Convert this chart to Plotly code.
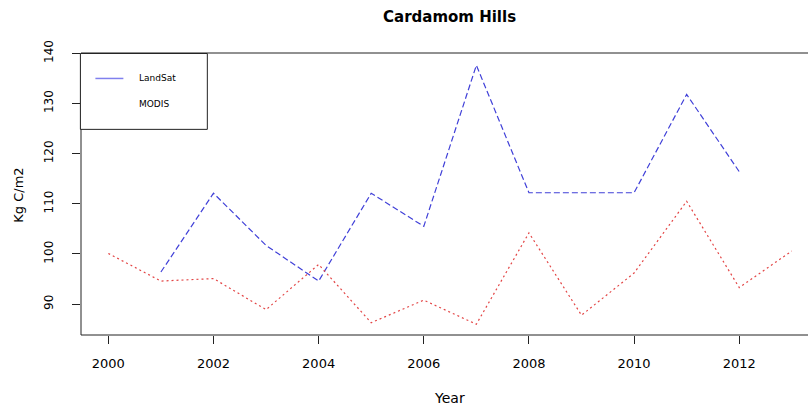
import plotly.graph_objects as go

# Carbon stock estimates, Cardamom Hills
years_landsat = [2001, 2002, 2003, 2004, 2005, 2006, 2007, 2008, 2009, 2010, 2011, 2012]
landsat = [96.4, 112.1, 101.7, 94.6, 112.1, 105.5, 137.6, 112.2, 112.2, 112.2, 131.8, 116.4]

years_modis = [2000, 2001, 2002, 2003, 2004, 2005, 2006, 2007, 2008, 2009, 2010, 2011, 2012, 2013]
modis = [100.1, 94.6, 95.1, 88.9, 97.9, 86.3, 90.8, 86.0, 104.2, 87.8, 96.2, 110.5, 93.3, 100.6]

x_ticks = [2000, 2002, 2004, 2006, 2008, 2010, 2012]
y_ticks = [90, 100, 110, 120, 130, 140]

FONT = "DejaVu Sans"
BLUE = "#4040d8"
RED = "#e34545"

fig = go.Figure()
fig.add_trace(go.Scatter(x=years_landsat, y=landsat, mode="lines", name="LandSat",
                         line=dict(color=BLUE, width=1.2, dash="6px,3px")))
fig.add_trace(go.Scatter(x=years_modis, y=modis, mode="lines", name="MODIS",
                         line=dict(color=RED, width=1.2, dash="2px,3px")))

W, H = 808, 409
left, top, bottom = 80.6, 52.5, 335.0
pw = W - left
ph = bottom - top


def px(xp):
    return (xp - left) / pw


def py(yp):
    return (bottom - yp) / ph


shapes = [
    # plot frame (left, top, bottom)
    dict(type="line", xref="paper", yref="paper", x0=0, x1=0, y0=0, y1=1,
         line=dict(color="#222", width=1)),
    dict(type="line", xref="paper", yref="paper", x0=0, x1=1, y0=1, y1=1,
         line=dict(color="#222", width=1)),
    dict(type="line", xref="paper", yref="paper", x0=0, x1=1, y0=0, y1=0,
         line=dict(color="#222", width=1)),
    # legend frame
    dict(type="rect", xref="paper", yref="paper", x0=px(80), x1=px(207),
         y0=py(129), y1=py(53), line=dict(color="#222", width=1),
         fillcolor="white", layer="above"),
    dict(type="line", xref="paper", yref="paper", x0=px(95), x1=px(123),
         y0=py(78), y1=py(78), line=dict(color="#8080ee", width=1.5), layer="above"),
]

annotations = [
    dict(text="<b>Cardamom Hills</b>", xref="paper", yref="paper",
         x=px(449), y=py(16), showarrow=False, xanchor="center", yanchor="middle",
         font=dict(family=FONT, size=15, color="black")),
    dict(text="Kg C/m2", xref="paper", yref="paper", x=px(18), y=py(195),
         showarrow=False, textangle=-90, xanchor="center", yanchor="middle",
         font=dict(family=FONT, size=13, color="black")),
    dict(text="Year", xref="paper", yref="paper", x=px(449), y=py(398),
         showarrow=False, xanchor="center", yanchor="middle",
         font=dict(family=FONT, size=14, color="black")),
    dict(text="LandSat", xref="paper", yref="paper", x=px(137), y=py(78),
         showarrow=False, xanchor="left", yanchor="middle",
         font=dict(family=FONT, size=9, color="black")),
    dict(text="MODIS", xref="paper", yref="paper", x=px(137), y=py(104),
         showarrow=False, xanchor="left", yanchor="middle",
         font=dict(family=FONT, size=9, color="black")),
]

fig.update_layout(
    width=W, height=H,
    margin=dict(l=left, r=0, t=top, b=H - bottom, pad=0),
    paper_bgcolor="white", plot_bgcolor="white",
    showlegend=False,
    shapes=shapes,
    annotations=annotations,
    xaxis=dict(range=[1999.48, 2000 + (W - 108) / 52.6], tickvals=x_ticks,
               ticktext=[str(v) for v in x_ticks], showgrid=False, zeroline=False,
               ticks="outside", ticklen=8, tickcolor="#222", showline=False,
               ticklabelstandoff=8,
               tickfont=dict(family=FONT, size=13, color="black")),
    yaxis=dict(range=[83.85, 140.05], tickvals=y_ticks,
               ticktext=[str(v) for v in y_ticks], showgrid=False, zeroline=False,
               ticks="outside", ticklen=8, tickcolor="#222", showline=False,
               tickangle=-90, ticklabelstandoff=14,
               tickfont=dict(family=FONT, size=12, color="black")),
)

fig.write_html("out.html")
